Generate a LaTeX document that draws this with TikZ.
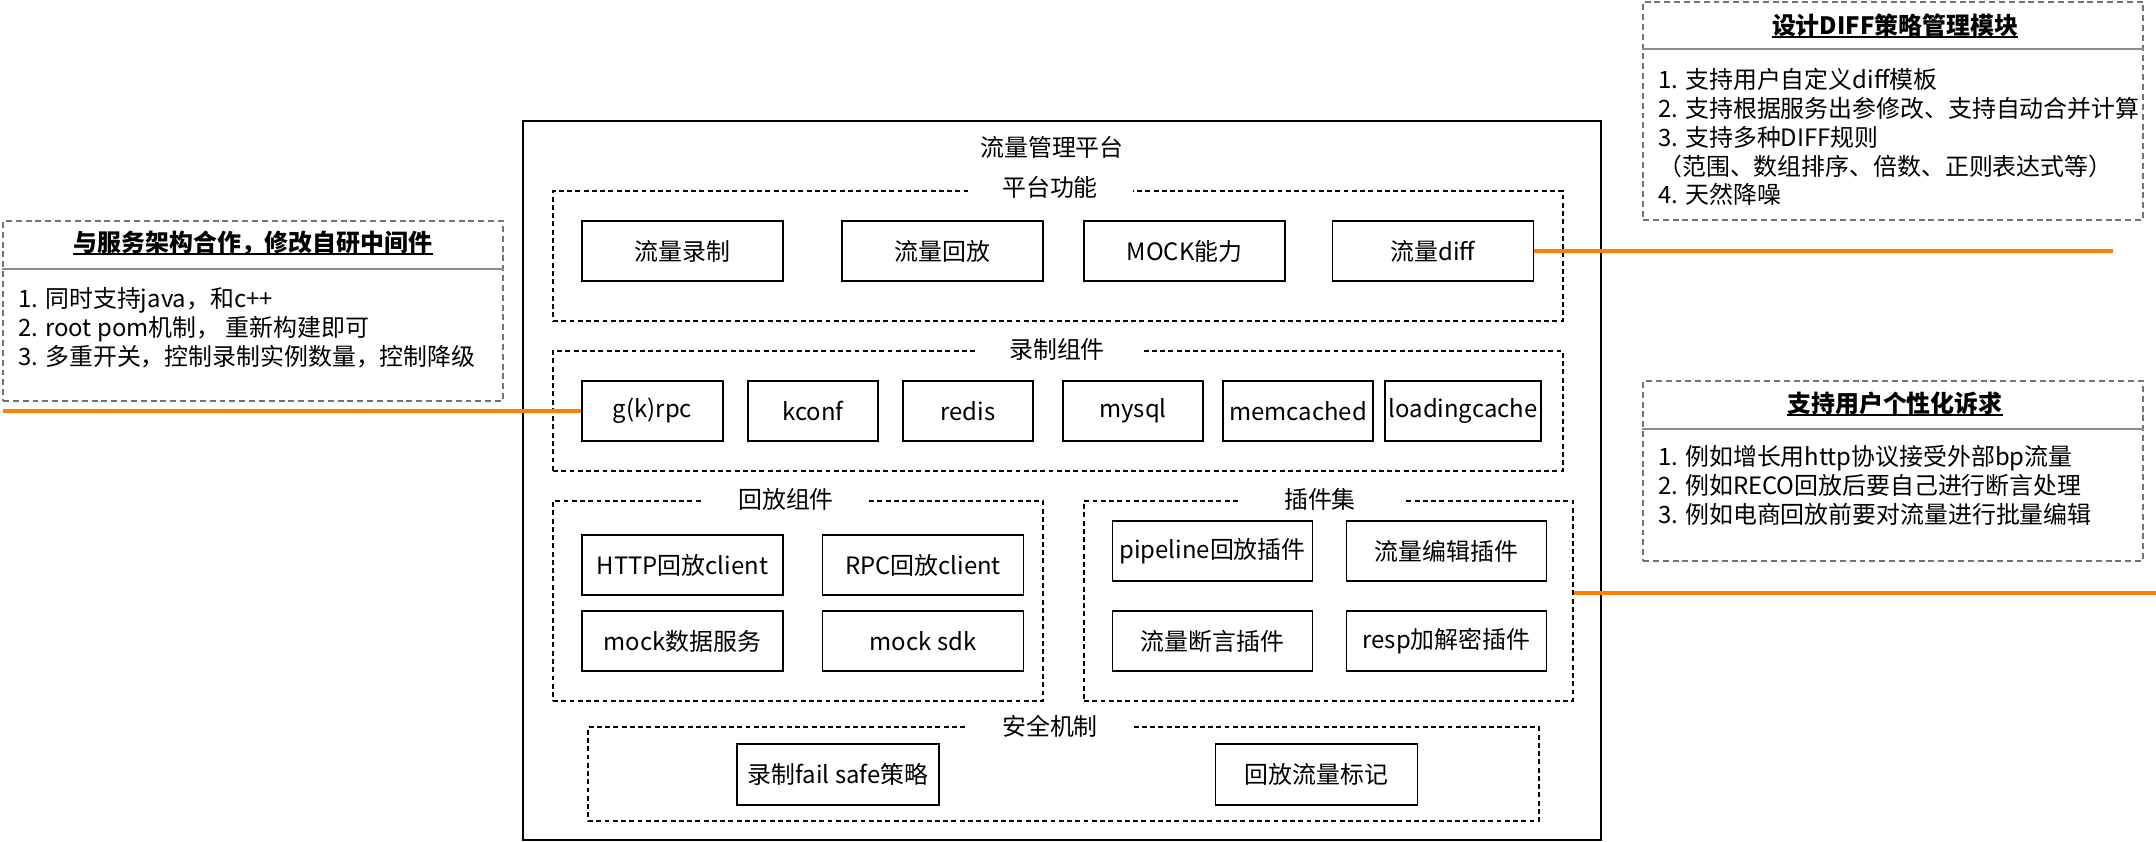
\documentclass[tikz,border=0pt]{standalone}
\usepackage{fontspec}
\setmainfont{Noto Sans CJK SC}
\usepackage{xcolor}
\usetikzlibrary{positioning}
\definecolor{linkOrange}{HTML}{FF8000}
\newcommand{\diagFont}{\fontsize{13.6}{16.4}\selectfont}
\tikzset{
    platformBox/.style={
        draw=black, line width=1pt, inner sep=0pt
    },
    sectionBox/.style={
        draw=black, line width=0.9pt, dash pattern=on 2.8pt off 1.9pt, inner sep=0pt
    },
    sectionLabel/.style={
        fill=white, minimum width=3.3cm, inner sep=1pt, font=\diagFont
    },
    compBox/.style={
        draw=black, fill=white, line width=0.9pt, minimum height=1.2cm, inner sep=2pt, font=\diagFont
    },
    noteBox/.style={
        draw=black!55, line width=0.9pt, dash pattern=on 3.4pt off 2.2pt, inner sep=0pt
    },
    noteTitle/.style={
        font=\diagFont\bfseries, inner sep=0pt
    },
    titleRule/.style={
        draw=black, line width=1.1pt
    },
    noteText/.style={
        anchor=north west, align=left, inner sep=0pt, font=\diagFont
    },
    noteRule/.style={
        draw=black!45, line width=1.3pt
    },
    orangeLink/.style={
        draw=linkOrange, line width=1.8pt
    }
}

\begin{document}
\begin{tikzpicture}
    \useasboundingbox (0,0) rectangle (43.12,-16.84);

    % ── PLATFORM FRAME
    \node[platformBox, minimum width=21.56cm, minimum height=14.38cm] (platform) at (21.24, -9.61) {};
    \node[font=\diagFont] (platformTitle) at (21.04, -2.94) {流量管理平台};

    % ── 平台功能
    \node[sectionBox, minimum width=20.2cm, minimum height=2.6cm] (funcSec) at (21.16, -5.12) {};
    \node[sectionLabel] (funcLabel) at (21.0, -3.74) {平台功能};
    \node[compBox, minimum width=4.02cm] (recordBox) at (13.65, -5.02) {流量录制};
    \node[compBox, minimum width=4.02cm] (replayBox) at (18.85, -5.02) {流量回放};
    \node[compBox, minimum width=4.02cm] (mockBox) at (23.69, -5.02) {MOCK能力};
    \node[compBox, minimum width=4.02cm] (diffBox) at (28.66, -5.02) {流量diff};

    % ── 录制组件
    \node[sectionBox, minimum width=20.2cm, minimum height=2.4cm] (recSec) at (21.16, -8.22) {};
    \node[sectionLabel] (recLabel) at (21.14, -6.98) {录制组件};
    \node[compBox, minimum width=2.82cm] (rpcBox) at (13.05, -8.22) {g(k)rpc};
    \node[compBox, minimum width=2.6cm] (kconfBox) at (16.26, -8.22) {kconf};
    \node[compBox, minimum width=2.6cm] (redisBox) at (19.36, -8.22) {redis};
    \node[compBox, minimum width=2.8cm] (mysqlBox) at (22.66, -8.22) {mysql};
    \node[compBox, minimum width=3.0cm] (memBox) at (25.96, -8.22) {memcached};
    \node[compBox, minimum width=3.0cm] (cacheBox) at (29.26, -8.22) {loadingcache};

    % ── 回放组件
    \node[sectionBox, minimum width=9.8cm, minimum height=4.0cm] (playSec) at (15.96, -12.02) {};
    \node[sectionLabel] (playLabel) at (15.72, -9.98) {回放组件};
    \node[compBox, minimum width=4.02cm] (httpBox) at (13.65, -11.3) {HTTP回放client};
    \node[compBox, minimum width=4.02cm] (rpcClientBox) at (18.46, -11.3) {RPC回放client};
    \node[compBox, minimum width=4.02cm] (mockDataBox) at (13.65, -12.82) {mock数据服务};
    \node[compBox, minimum width=4.02cm] (sdkBox) at (18.46, -12.82) {mock sdk};

    % ── 插件集
    \node[sectionBox, minimum width=9.78cm, minimum height=4.0cm] (pluginSec) at (26.57, -12.02) {};
    \node[sectionLabel] (pluginLabel) at (26.4, -9.98) {插件集};
    \node[compBox, minimum width=4.0cm] (pipeBox) at (24.25, -11.02) {pipeline回放插件};
    \node[compBox, minimum width=4.0cm] (editBox) at (28.93, -11.02) {流量编辑插件};
    \node[compBox, minimum width=4.0cm] (assertBox) at (24.25, -12.82) {流量断言插件};
    \node[compBox, minimum width=4.0cm] (cryptBox) at (28.93, -12.82) {resp加解密插件};

    % ── 安全机制
    \node[sectionBox, minimum width=19.02cm, minimum height=1.88cm] (safeSec) at (21.27, -15.48) {};
    \node[sectionLabel] (safeLabel) at (21.0, -14.52) {安全机制};
    \node[compBox, minimum width=4.04cm, minimum height=1.22cm] (failBox) at (16.76, -15.49) {录制fail safe策略};
    \node[compBox, minimum width=4.04cm, minimum height=1.22cm] (markBox) at (26.33, -15.49) {回放流量标记};

    % ── NOTES
    \node[noteBox, minimum width=10.0cm, minimum height=3.6cm] (midNote) at (5.06, -6.22) {};
    \node[noteTitle] (midTitle) at (5.06, -4.86) {与服务架构合作，修改自研中间件};
    \draw[titleRule] ([yshift=-0.05cm]midTitle.base west) -- ([yshift=-0.05cm]midTitle.base east);
    \draw[noteRule] (midNote.west |- 0,-5.38) -- (midNote.east |- 0,-5.38);
    \node[noteText] (midItems) at (0.36, -5.74) {
        1. 同时支持java，和c++\\
        2. root pom机制， 重新构建即可\\
        3. 多重开关，控制录制实例数量，控制降级
    };

    \node[noteBox, minimum width=10.0cm, minimum height=4.36cm] (diffNote) at (37.86, -2.22) {};
    \node[noteTitle] (diffTitle) at (37.9, -0.5) {设计DIFF策略管理模块};
    \draw[titleRule] ([yshift=-0.05cm]diffTitle.base west) -- ([yshift=-0.05cm]diffTitle.base east);
    \draw[noteRule] (diffNote.west |- 0,-0.98) -- (diffNote.east |- 0,-0.98);
    \node[noteText] (diffItems) at (33.16, -1.36) {
        1. 支持用户自定义diff模板\\
        2. 支持根据服务出参修改、支持自动合并计算\\
        3. 支持多种DIFF规则\\
        （范围、数组排序、倍数、正则表达式等）\\
        4. 天然降噪
    };

    \node[noteBox, minimum width=10.0cm, minimum height=3.6cm] (userNote) at (37.86, -9.42) {};
    \node[noteTitle] (userTitle) at (37.9, -8.06) {支持用户个性化诉求};
    \draw[titleRule] ([yshift=-0.05cm]userTitle.base west) -- ([yshift=-0.05cm]userTitle.base east);
    \draw[noteRule] (userNote.west |- 0,-8.58) -- (userNote.east |- 0,-8.58);
    \node[noteText] (userItems) at (33.16, -8.90) {
        1. 例如增长用http协议接受外部bp流量\\
        2. 例如RECO回放后要自己进行断言处理\\
        3. 例如电商回放前要对流量进行批量编辑
    };

    % ── ORANGE LINKS
    \coordinate (diffEnd) at (42.26, -5.02);
    \coordinate (rpcStart) at (0.06, -8.22);
    \coordinate (pluginEnd) at (43.12, -11.86);
    \draw[orangeLink] (diffBox.east) -- (diffEnd);
    \draw[orangeLink] (rpcStart) -- (rpcBox.west);
    \draw[orangeLink] (pluginSec.east |- pluginEnd) -- (pluginEnd);
\end{tikzpicture}
\end{document}
